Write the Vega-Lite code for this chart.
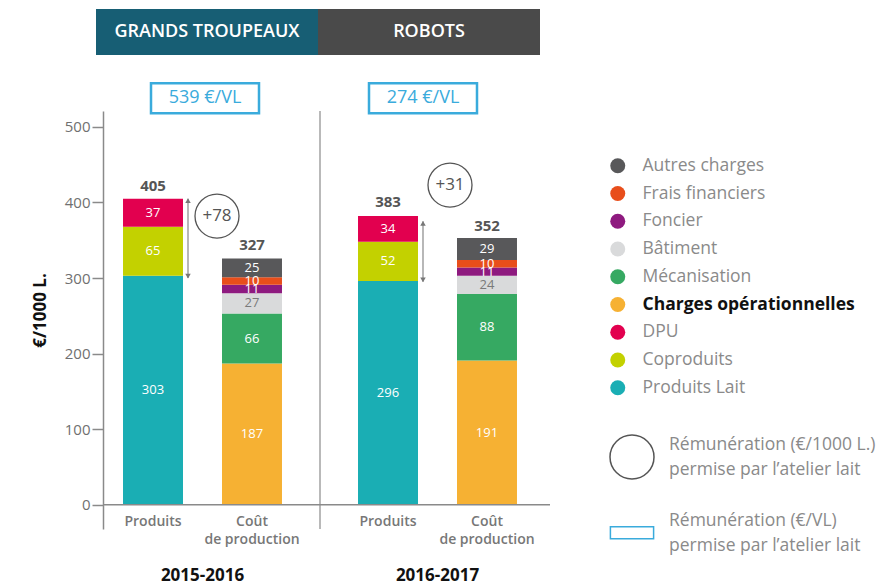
{
  "$schema": "https://vega.github.io/schema/vega-lite/v6.json",
  "width": 447,
  "height": 418,
  "autosize": {"type": "none"},
  "padding": {"left": 103, "top": 111, "right": 340, "bottom": 58},
  "background": "white",
  "config": {
    "view": {"stroke": null},
    "font": "Open Sans",
    "text": {"font": "Open Sans"},
    "style": {"guide-label": {"lineHeight": 25}},
    "axisY": {"grid": false, "domainColor": "#8a8a8a", "domainWidth": 1.5, "tickColor": "#8a8a8a", "tickWidth": 1.5, "tickSize": 11, "labelFont": "Open Sans", "labelFontSize": 15, "labelColor": "#707070", "labelPadding": 2, "titleFont": "Open Sans", "titleFontSize": 17, "titleFontWeight": "bold", "titleColor": "#111111"},
    "axisX": {"grid": false, "domain": false, "ticks": false, "labelPadding": 38, "labelFont": "Open Sans", "labelFontSize": 17, "labelFontWeight": "bold", "labelColor": "#111111", "labelBaseline": "top", "labelAngle": 0}
  },
  "datasets": {
    "barres": [
      {"annee": "2015-2016", "type": "Produits", "poste": "Produits Lait", "rang": 1, "valeur": 303},
      {"annee": "2015-2016", "type": "Produits", "poste": "Coproduits", "rang": 2, "valeur": 65},
      {"annee": "2015-2016", "type": "Produits", "poste": "DPU", "rang": 3, "valeur": 37},
      {"annee": "2015-2016", "type": "Coût\nde production", "poste": "Charges opérationnelles", "rang": 1, "valeur": 187},
      {"annee": "2015-2016", "type": "Coût\nde production", "poste": "Mécanisation", "rang": 2, "valeur": 66},
      {"annee": "2015-2016", "type": "Coût\nde production", "poste": "Bâtiment", "rang": 3, "valeur": 27},
      {"annee": "2015-2016", "type": "Coût\nde production", "poste": "Foncier", "rang": 4, "valeur": 11},
      {"annee": "2015-2016", "type": "Coût\nde production", "poste": "Frais financiers", "rang": 5, "valeur": 10},
      {"annee": "2015-2016", "type": "Coût\nde production", "poste": "Autres charges", "rang": 6, "valeur": 25},
      {"annee": "2016-2017", "type": "Produits", "poste": "Produits Lait", "rang": 1, "valeur": 296},
      {"annee": "2016-2017", "type": "Produits", "poste": "Coproduits", "rang": 2, "valeur": 52},
      {"annee": "2016-2017", "type": "Produits", "poste": "DPU", "rang": 3, "valeur": 34},
      {"annee": "2016-2017", "type": "Coût\nde production", "poste": "Charges opérationnelles", "rang": 1, "valeur": 191},
      {"annee": "2016-2017", "type": "Coût\nde production", "poste": "Mécanisation", "rang": 2, "valeur": 88},
      {"annee": "2016-2017", "type": "Coût\nde production", "poste": "Bâtiment", "rang": 3, "valeur": 24},
      {"annee": "2016-2017", "type": "Coût\nde production", "poste": "Foncier", "rang": 4, "valeur": 11},
      {"annee": "2016-2017", "type": "Coût\nde production", "poste": "Frais financiers", "rang": 5, "valeur": 10},
      {"annee": "2016-2017", "type": "Coût\nde production", "poste": "Autres charges", "rang": 6, "valeur": 29}
    ],
    "totaux": [
      {"annee": "2015-2016", "type": "Produits", "total": 405},
      {"annee": "2015-2016", "type": "Coût\nde production", "total": 327},
      {"annee": "2016-2017", "type": "Produits", "total": 383},
      {"annee": "2016-2017", "type": "Coût\nde production", "total": 352}
    ],
    "marges": [
      {"annee": "2015-2016", "marge": "+78", "bas": 300, "haut": 405, "note": "Rémunération (€/1000 L.)|permise par l’atelier lait"},
      {"annee": "2016-2017", "marge": "+31", "bas": 295, "haut": 375, "note": "Rémunération (€/1000 L.)|permise par l’atelier lait"}
    ],
    "entetes": [
      {"annee": "2015-2016", "groupe": "GRANDS TROUPEAUX", "vl": "539 €/VL", "note": "Rémunération (€/VL)|permise par l’atelier lait"},
      {"annee": "2016-2017", "groupe": "ROBOTS", "vl": "274 €/VL", "note": "Rémunération (€/VL)|permise par l’atelier lait"}
    ]
  },
  "layer": [
    {
      "data": {"name": "barres"},
      "mark": {"type": "bar"},
      "encoding": {
        "x": {"field": "annee", "type": "nominal", "title": null, "scale": {"domain": ["2015-2016", "2016-2017"], "range": [-18, 452], "paddingInner": 0, "paddingOuter": 0}, "axis": {"title": null, "orient": "bottom"}},
        "xOffset": {"field": "type", "type": "nominal", "scale": {"domain": ["Produits", "Coût\nde production"], "paddingInner": 0.394, "paddingOuter": 0.384}},
        "y": {"field": "valeur", "type": "quantitative", "stack": "zero", "scale": {"domain": [-32, 521], "nice": false, "zero": false}, "axis": {"orient": "left", "values": [0, 100, 200, 300, 400, 500], "title": "€/1000 L.", "titleX": -63, "titleY": 199, "titleAngle": -90, "titleAlign": "center", "titleBaseline": "middle"}},
        "order": {"field": "rang", "type": "quantitative", "sort": "ascending"},
        "color": {"field": "poste", "type": "nominal",
          "scale": {"domain": ["Autres charges", "Frais financiers", "Foncier", "Bâtiment", "Mécanisation", "Charges opérationnelles", "DPU", "Coproduits", "Produits Lait"], "range": ["#58585a", "#e84e1b", "#8e1a7f", "#d9dadb", "#36a962", "#f6b133", "#e2004f", "#c3d100", "#1aaeb4"]},
          "legend": {"title": null, "orient": "none", "legendX": 506, "legendY": 46, "padding": 0, "symbolType": "circle", "symbolSize": 225, "symbolStrokeWidth": 0, "symbolOpacity": 1, "labelFont": "Open Sans", "labelFontSize": 17.5, "labelColor": "#8a8a8a", "labelOffset": 16, "labelLimit": 300, "rowPadding": 8.75,
            "encode": {"labels": {"update": {"fontWeight": {"signal": "datum.label === 'Charges opérationnelles' ? 'bold' : 'normal'"}, "fill": {"signal": "datum.label === 'Charges opérationnelles' ? '#111111' : '#8a8a8a'"}}}}}}
      }
    },
    {
      "data": {"name": "barres"},
      "mark": {"type": "text", "fontSize": 13, "baseline": "middle"},
      "encoding": {
        "x": {"field": "annee", "type": "nominal", "title": null, "scale": {"domain": ["2015-2016", "2016-2017"], "range": [-18, 452], "paddingInner": 0, "paddingOuter": 0}},
        "xOffset": {"field": "type", "type": "nominal", "scale": {"domain": ["Produits", "Coût\nde production"], "paddingInner": 0.394, "paddingOuter": 0.384}},
        "y": {"field": "valeur", "type": "quantitative", "stack": "zero", "bandPosition": 0.5, "scale": {"domain": [-32, 521], "nice": false, "zero": false}},
        "order": {"field": "rang", "type": "quantitative", "sort": "ascending"},
        "detail": {"field": "poste", "type": "nominal"},
        "color": {"condition": {"test": "datum.poste === 'Bâtiment'", "value": "#7a7a7a"}, "value": "white"},
        "text": {"field": "valeur", "type": "quantitative"}
      }
    },
    {
      "data": {"name": "totaux"},
      "mark": {"type": "text", "fontSize": 15, "fontWeight": "bold", "color": "#555555", "baseline": "bottom", "dy": -5},
      "encoding": {
        "x": {"field": "annee", "type": "nominal", "title": null, "scale": {"domain": ["2015-2016", "2016-2017"], "range": [-18, 452], "paddingInner": 0, "paddingOuter": 0}},
        "xOffset": {"field": "type", "type": "nominal", "scale": {"domain": ["Produits", "Coût\nde production"], "paddingInner": 0.394, "paddingOuter": 0.384}},
        "y": {"field": "total", "type": "quantitative", "scale": {"domain": [-32, 521], "nice": false, "zero": false}},
        "text": {"field": "total", "type": "quantitative"}
      }
    },
    {
      "data": {"name": "totaux"},
      "mark": {"type": "text", "fontSize": 14, "fontWeight": 600, "color": "#777777", "baseline": "top", "dy": 10, "lineBreak": "\n", "lineHeight": 18},
      "encoding": {
        "x": {"field": "annee", "type": "nominal", "title": null, "scale": {"domain": ["2015-2016", "2016-2017"], "range": [-18, 452], "paddingInner": 0, "paddingOuter": 0}},
        "xOffset": {"field": "type", "type": "nominal", "scale": {"domain": ["Produits", "Coût\nde production"], "paddingInner": 0.394, "paddingOuter": 0.384}},
        "y": {"datum": 0, "scale": {"domain": [-32, 521], "nice": false, "zero": false}},
        "text": {"field": "type", "type": "nominal"}
      }
    },
    {
      "data": {"values": [{}]},
      "mark": {"type": "rule", "color": "#8a8a8a", "strokeWidth": 1.5},
      "encoding": {
        "y": {"datum": 0, "scale": {"domain": [-32, 521], "nice": false, "zero": false}}
      }
    },
    {
      "data": {"values": [{}]},
      "mark": {"type": "rule", "color": "#8a8a8a", "strokeWidth": 1.2},
      "encoding": {
        "x": {"datum": "2016-2017", "bandPosition": 0, "title": null, "scale": {"domain": ["2015-2016", "2016-2017"], "range": [-18, 452], "paddingInner": 0, "paddingOuter": 0}}
      }
    },
    {
      "data": {"name": "marges"},
      "mark": {"type": "rule", "color": "#888888", "strokeWidth": 1.2, "xOffset": -14.5},
      "encoding": {
        "x": {"field": "annee", "type": "nominal", "title": null, "scale": {"domain": ["2015-2016", "2016-2017"], "range": [-18, 452], "paddingInner": 0, "paddingOuter": 0}},
        "y": {"field": "bas", "type": "quantitative", "scale": {"domain": [-32, 521], "nice": false, "zero": false}},
        "y2": {"field": "haut"}
      }
    },
    {
      "data": {"name": "marges"},
      "mark": {"type": "point", "shape": "triangle-up", "filled": true, "size": 30, "color": "#777777", "opacity": 1, "xOffset": -14.5, "yOffset": 2},
      "encoding": {
        "x": {"field": "annee", "type": "nominal", "title": null, "scale": {"domain": ["2015-2016", "2016-2017"], "range": [-18, 452], "paddingInner": 0, "paddingOuter": 0}},
        "y": {"field": "haut", "type": "quantitative", "scale": {"domain": [-32, 521], "nice": false, "zero": false}}
      }
    },
    {
      "data": {"name": "marges"},
      "mark": {"type": "point", "shape": "triangle-down", "filled": true, "size": 30, "color": "#777777", "opacity": 1, "xOffset": -14.5, "yOffset": -2},
      "encoding": {
        "x": {"field": "annee", "type": "nominal", "title": null, "scale": {"domain": ["2015-2016", "2016-2017"], "range": [-18, 452], "paddingInner": 0, "paddingOuter": 0}},
        "y": {"field": "bas", "type": "quantitative", "scale": {"domain": [-32, 521], "nice": false, "zero": false}}
      }
    },
    {
      "data": {"name": "marges"},
      "transform": [{"filter": "datum.annee === '2015-2016'"}],
      "mark": {"type": "point", "filled": false, "strokeWidth": 1.3, "size": 1936, "opacity": 1, "xOffset": 14.5},
      "encoding": {
        "x": {"field": "annee", "type": "nominal", "title": null, "scale": {"domain": ["2015-2016", "2016-2017"], "range": [-18, 452], "paddingInner": 0, "paddingOuter": 0}},
        "y": {"datum": 382, "scale": {"domain": [-32, 521], "nice": false, "zero": false}},
        "shape": {"field": "note", "type": "nominal", "scale": {"domain": ["Rémunération (€/1000 L.)|permise par l’atelier lait", "Rémunération (€/VL)|permise par l’atelier lait"], "range": ["circle", "M-3.6,-1H3.6V1H-3.6Z"]},
          "legend": {"title": null, "orient": "none", "legendX": 506, "legendY": 323, "padding": 0, "symbolStrokeWidth": 1.5, "labelFont": "Open Sans", "labelFontSize": 17.5, "labelColor": "#8a8a8a", "labelOffset": 14, "labelLimit": 400, "labelBaseline": "line-bottom", "labelExpr": "split(datum.label, '|')", "rowPadding": 29}},
        "stroke": {"field": "note", "type": "nominal", "scale": {"domain": ["Rémunération (€/1000 L.)|permise par l’atelier lait", "Rémunération (€/VL)|permise par l’atelier lait"], "range": ["#555555", "#3aabdc"]},
          "legend": {"title": null, "orient": "none", "legendX": 506, "legendY": 323, "padding": 0, "symbolStrokeWidth": 1.5, "labelFont": "Open Sans", "labelFontSize": 17.5, "labelColor": "#8a8a8a", "labelOffset": 14, "labelLimit": 400, "labelBaseline": "line-bottom", "labelExpr": "split(datum.label, '|')", "rowPadding": 29}},
        "size": {"field": "note", "type": "nominal", "scale": {"type": "point", "padding": 0, "domain": ["Rémunération (€/1000 L.)|permise par l’atelier lait", "Rémunération (€/VL)|permise par l’atelier lait"], "range": [1936, 144]},
          "legend": {"title": null, "orient": "none", "legendX": 506, "legendY": 323, "padding": 0, "symbolStrokeWidth": 1.5, "labelFont": "Open Sans", "labelFontSize": 17.5, "labelColor": "#8a8a8a", "labelOffset": 14, "labelLimit": 400, "labelBaseline": "line-bottom", "labelExpr": "split(datum.label, '|')", "rowPadding": 29}}
      }
    },
    {
      "data": {"name": "marges"},
      "transform": [{"filter": "datum.annee === '2016-2017'"}],
      "mark": {"type": "point", "filled": false, "strokeWidth": 1.3, "size": 1936, "opacity": 1, "xOffset": 12.5},
      "encoding": {
        "x": {"field": "annee", "type": "nominal", "title": null, "scale": {"domain": ["2015-2016", "2016-2017"], "range": [-18, 452], "paddingInner": 0, "paddingOuter": 0}},
        "y": {"datum": 423, "scale": {"domain": [-32, 521], "nice": false, "zero": false}},
        "shape": {"field": "note", "type": "nominal", "legend": null},
        "stroke": {"field": "note", "type": "nominal", "legend": null},
        "size": {"field": "note", "type": "nominal", "legend": null}
      }
    },
    {
      "data": {"name": "marges"},
      "transform": [{"filter": "datum.annee === '2015-2016'"}],
      "mark": {"type": "text", "fontSize": 17, "color": "#555555", "xOffset": 14.5},
      "encoding": {
        "x": {"field": "annee", "type": "nominal", "title": null, "scale": {"domain": ["2015-2016", "2016-2017"], "range": [-18, 452], "paddingInner": 0, "paddingOuter": 0}},
        "y": {"datum": 382, "scale": {"domain": [-32, 521], "nice": false, "zero": false}},
        "text": {"field": "marge", "type": "nominal"}
      }
    },
    {
      "data": {"name": "marges"},
      "transform": [{"filter": "datum.annee === '2016-2017'"}],
      "mark": {"type": "text", "fontSize": 17, "color": "#555555", "xOffset": 12.5},
      "encoding": {
        "x": {"field": "annee", "type": "nominal", "title": null, "scale": {"domain": ["2015-2016", "2016-2017"], "range": [-18, 452], "paddingInner": 0, "paddingOuter": 0}},
        "y": {"datum": 423, "scale": {"domain": [-32, 521], "nice": false, "zero": false}},
        "text": {"field": "marge", "type": "nominal"}
      }
    },
    {
      "data": {"name": "entetes"},
      "transform": [{"filter": "datum.annee === '2015-2016'"}],
      "encoding": {
        "x": {"field": "annee", "type": "nominal", "title": null, "scale": {"domain": ["2015-2016", "2016-2017"], "range": [-18, 452], "paddingInner": 0, "paddingOuter": 0}}
      },
      "layer": [
        {
          "mark": {"type": "bar", "width": 222, "xOffset": 4.5},
          "encoding": {
            "y": {"datum": 595, "scale": {"domain": [-32, 521], "nice": false, "zero": false}},
            "y2": {"datum": 656},
            "fill": {"field": "groupe", "type": "nominal", "scale": {"domain": ["GRANDS TROUPEAUX", "ROBOTS"], "range": ["#175e74", "#4a4a4a"]}, "legend": null}
          }
        },
        {
          "mark": {"type": "text", "color": "white", "fontSize": 18, "fontWeight": 600, "xOffset": 4.5},
          "encoding": {
            "y": {"datum": 625.5, "scale": {"domain": [-32, 521], "nice": false, "zero": false}},
            "text": {"field": "groupe", "type": "nominal"}
          }
        },
        {
          "mark": {"type": "point", "filled": false, "strokeWidth": 2.5, "size": 900, "opacity": 1, "xOffset": 2.5},
          "encoding": {
            "y": {"datum": 538, "scale": {"domain": [-32, 521], "nice": false, "zero": false}},
            "shape": {"field": "note", "type": "nominal", "legend": null},
            "stroke": {"field": "note", "type": "nominal", "legend": null}
          }
        },
        {
          "mark": {"type": "text", "color": "#3aabdc", "fontSize": 18, "fontWeight": 500, "xOffset": 2.5},
          "encoding": {
            "y": {"datum": 538, "scale": {"domain": [-32, 521], "nice": false, "zero": false}},
            "text": {"field": "vl", "type": "nominal"}
          }
        }
      ]
    },
    {
      "data": {"name": "entetes"},
      "transform": [{"filter": "datum.annee === '2016-2017'"}],
      "encoding": {
        "x": {"field": "annee", "type": "nominal", "title": null, "scale": {"domain": ["2015-2016", "2016-2017"], "range": [-18, 452], "paddingInner": 0, "paddingOuter": 0}}
      },
      "layer": [
        {
          "mark": {"type": "bar", "width": 222, "xOffset": -8.5},
          "encoding": {
            "y": {"datum": 595, "scale": {"domain": [-32, 521], "nice": false, "zero": false}},
            "y2": {"datum": 656},
            "fill": {"field": "groupe", "type": "nominal", "legend": null}
          }
        },
        {
          "mark": {"type": "text", "color": "white", "fontSize": 18, "fontWeight": 600, "xOffset": -8.5},
          "encoding": {
            "y": {"datum": 625.5, "scale": {"domain": [-32, 521], "nice": false, "zero": false}},
            "text": {"field": "groupe", "type": "nominal"}
          }
        },
        {
          "mark": {"type": "point", "filled": false, "strokeWidth": 2.5, "size": 900, "opacity": 1, "xOffset": -14.5},
          "encoding": {
            "y": {"datum": 538, "scale": {"domain": [-32, 521], "nice": false, "zero": false}},
            "shape": {"field": "note", "type": "nominal", "legend": null},
            "stroke": {"field": "note", "type": "nominal", "legend": null}
          }
        },
        {
          "mark": {"type": "text", "color": "#3aabdc", "fontSize": 18, "fontWeight": 500, "xOffset": -14.5},
          "encoding": {
            "y": {"datum": 538, "scale": {"domain": [-32, 521], "nice": false, "zero": false}},
            "text": {"field": "vl", "type": "nominal"}
          }
        }
      ]
    }
  ]
}
